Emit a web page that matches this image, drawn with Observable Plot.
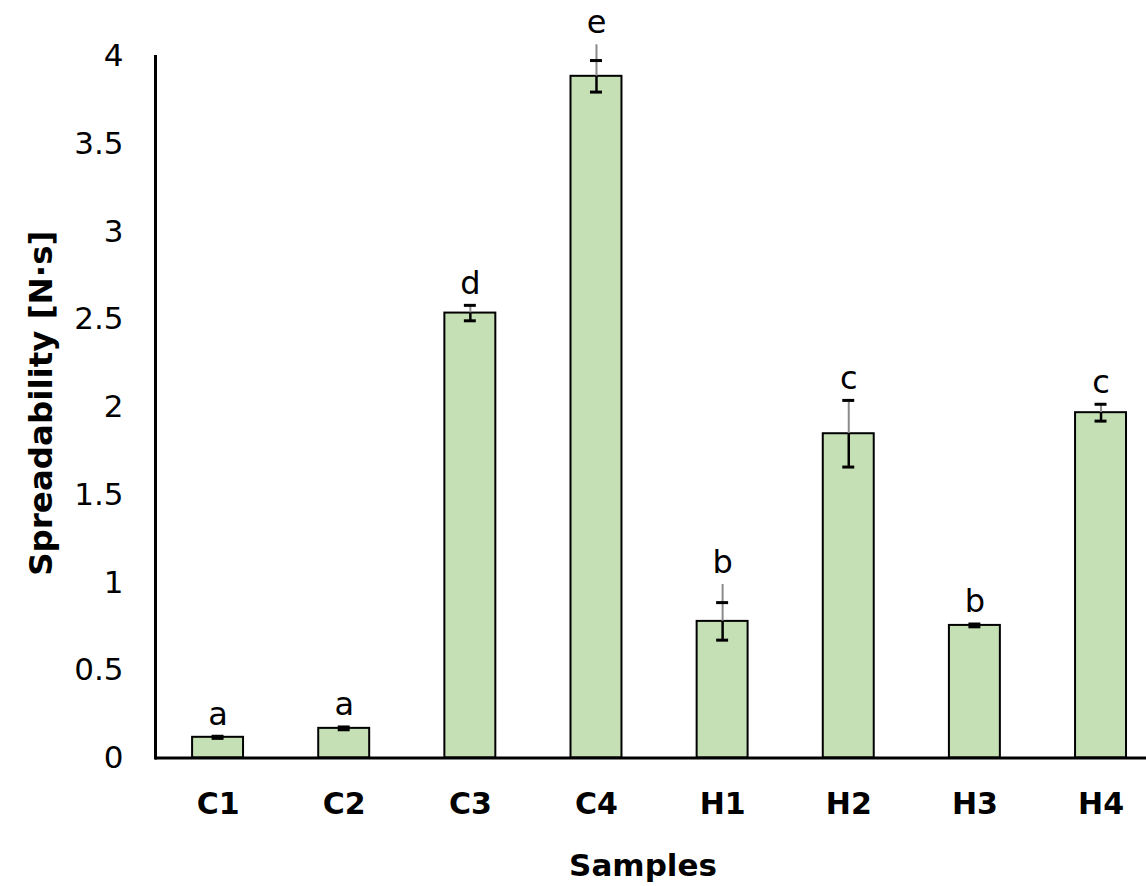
<!DOCTYPE html>
<html>
<head>
<meta charset="utf-8">
<script src="https://cdn.jsdelivr.net/npm/d3@7"></script>
<script src="https://cdn.jsdelivr.net/npm/@observablehq/plot@0.6"></script>
<style>
  html, body { margin: 0; padding: 0; background: #fff; }
  #chart { width: 1146px; height: 886px; }
</style>
</head>
<body>
<div id="chart"></div>
<script>
// ---- data ----
const categories = ["C1", "C2", "C3", "C4", "H1", "H2", "H3", "H4"];
const means      = [0.118, 0.169, 2.537, 3.887, 0.779, 1.849, 0.756, 1.969];
const errors     = [0.006, 0.008, 0.044, 0.090, 0.107, 0.190, 0.008, 0.048];
const outerTops  = [null, null, null, 4.067, 0.989, null, null, null]; // longer grey whiskers
const letters    = ["a", "a", "d", "e", "b", "c", "b", "c"];
const yTicks     = [0, 0.5, 1, 1.5, 2, 2.5, 3, 3.5, 4];
const yTitle     = "Spreadability [N·s]";
const xTitle     = "Samples";

const rows = categories.map((c, i) => ({
  cat: c,
  mean: means[i],
  lo: means[i] - errors[i],
  hi: means[i] + errors[i],
  top: Math.max(means[i] + errors[i], outerTops[i] ?? -Infinity),
  letter: letters[i]
}));

const font = "DejaVu Sans, Verdana, sans-serif";

const chart = Plot.plot({
  width: 1146,
  height: 886,
  marginLeft: 155,
  marginRight: 0,
  marginTop: 56,
  marginBottom: 128.5,
  style: { fontFamily: font, color: "#000", background: "#fff", overflow: "visible" },
  x: { domain: categories, range: [154.5, 1163.6], paddingInner: 0.596, paddingOuter: 0.298, round: false },
  y: { domain: [0, 4] },
  marks: [
    Plot.barY(rows, { x: "cat", y: "mean", fill: "#C5E0B4", stroke: "#000", strokeWidth: 2 }),
    // grey upper whiskers
    Plot.ruleX(rows, { x: "cat", y1: "mean", y2: "top", stroke: "#8a8a8a", strokeWidth: 2 }),
    // black lower whiskers
    Plot.ruleX(rows, { x: "cat", y1: "lo", y2: "mean", stroke: "#000", strokeWidth: 2.5 }),
    // caps
    Plot.tickY(rows, { x: "cat", y: "hi", stroke: "#000", strokeWidth: 3, insetLeft: 19.5, insetRight: 19.5 }),
    Plot.tickY(rows, { x: "cat", y: "lo", stroke: "#000", strokeWidth: 3, insetLeft: 19.5, insetRight: 19.5 }),
    // significance letters
    Plot.text(rows, { x: "cat", y: "top", text: "letter", dy: -22, fontSize: 32, fill: "#000" }),
    // axes
    Plot.axisY({ ticks: yTicks, tickSize: 0, tickPadding: 32, fontSize: 31, label: null, tickFormat: d => String(d) }),
    Plot.axisX({ tickSize: 0, tickPadding: 35, fontSize: 30, fontWeight: "bold", label: null }),
    Plot.frame({ anchor: "left", stroke: "#000", strokeWidth: 3 }),
    Plot.ruleY([0], { stroke: "#000", strokeWidth: 3 }),
    // axis titles
    Plot.text([yTitle], { frameAnchor: "left", textAnchor: "middle", rotate: -90, dx: -114, dy: -4, fontSize: 32.5, fontWeight: "bold", fill: "#000" }),
    Plot.text([xTitle], { frameAnchor: "bottom", textAnchor: "middle", dx: -8, dy: 118, fontSize: 31, fontWeight: "bold", fill: "#000" })
  ]
});

document.getElementById("chart").appendChild(chart);
</script>
</body>
</html>
